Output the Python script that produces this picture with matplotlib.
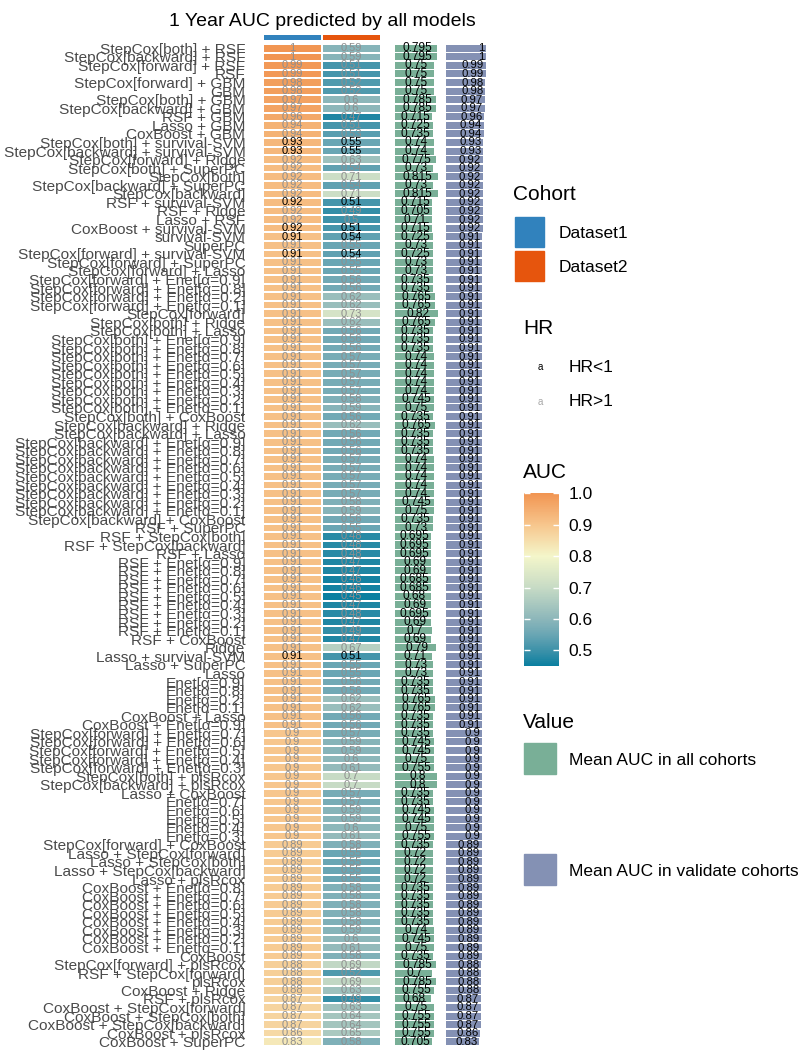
import numpy as np
import matplotlib.pyplot as plt
from matplotlib.colors import LinearSegmentedColormap, ListedColormap, Normalize
from matplotlib.patches import Rectangle

plt.rcParams['font.family'] = ['Liberation Sans', 'DejaVu Sans']

# ---- data (top row first) ----
models = [
    "StepCox[both] + RSF", "StepCox[backward] + RSF", "StepCox[forward] + RSF", "RSF",
    "StepCox[forward] + GBM", "GBM", "StepCox[both] + GBM", "StepCox[backward] + GBM",
    "RSF + GBM", "Lasso + GBM", "CoxBoost + GBM", "StepCox[both] + survival-SVM",
    "StepCox[backward] + survival-SVM", "StepCox[forward] + Ridge", "StepCox[both] + SuperPC",
    "StepCox[both]", "StepCox[backward] + SuperPC", "StepCox[backward]", "RSF + survival-SVM",
    "RSF + Ridge", "Lasso + RSF", "CoxBoost + survival-SVM", "survival-SVM", "SuperPC",
    "StepCox[forward] + survival-SVM", "StepCox[forward] + SuperPC", "StepCox[forward] + Lasso",
    "StepCox[forward] + Enet[α=0.9]", "StepCox[forward] + Enet[α=0.8]",
    "StepCox[forward] + Enet[α=0.2]", "StepCox[forward] + Enet[α=0.1]", "StepCox[forward]",
    "StepCox[both] + Ridge", "StepCox[both] + Lasso",
    "StepCox[both] + Enet[α=0.9]", "StepCox[both] + Enet[α=0.8]", "StepCox[both] + Enet[α=0.7]",
    "StepCox[both] + Enet[α=0.6]", "StepCox[both] + Enet[α=0.5]", "StepCox[both] + Enet[α=0.4]",
    "StepCox[both] + Enet[α=0.3]", "StepCox[both] + Enet[α=0.2]", "StepCox[both] + Enet[α=0.1]",
    "StepCox[both] + CoxBoost", "StepCox[backward] + Ridge", "StepCox[backward] + Lasso",
    "StepCox[backward] + Enet[α=0.9]", "StepCox[backward] + Enet[α=0.8]",
    "StepCox[backward] + Enet[α=0.7]", "StepCox[backward] + Enet[α=0.6]",
    "StepCox[backward] + Enet[α=0.5]", "StepCox[backward] + Enet[α=0.4]",
    "StepCox[backward] + Enet[α=0.3]", "StepCox[backward] + Enet[α=0.2]",
    "StepCox[backward] + Enet[α=0.1]", "StepCox[backward] + CoxBoost", "RSF + SuperPC",
    "RSF + StepCox[both]", "RSF + StepCox[backward]", "RSF + Lasso",
    "RSF + Enet[α=0.9]", "RSF + Enet[α=0.8]", "RSF + Enet[α=0.7]", "RSF + Enet[α=0.6]",
    "RSF + Enet[α=0.5]", "RSF + Enet[α=0.4]", "RSF + Enet[α=0.3]", "RSF + Enet[α=0.2]",
    "RSF + Enet[α=0.1]", "RSF + CoxBoost", "Ridge", "Lasso + survival-SVM", "Lasso + SuperPC",
    "Lasso", "Enet[α=0.9]", "Enet[α=0.8]", "Enet[α=0.2]", "Enet[α=0.1]", "CoxBoost + Lasso",
    "CoxBoost + Enet[α=0.9]", "StepCox[forward] + Enet[α=0.7]", "StepCox[forward] + Enet[α=0.6]",
    "StepCox[forward] + Enet[α=0.5]", "StepCox[forward] + Enet[α=0.4]",
    "StepCox[forward] + Enet[α=0.3]", "StepCox[both] + plsRcox", "StepCox[backward] + plsRcox",
    "Lasso + CoxBoost", "Enet[α=0.7]", "Enet[α=0.6]", "Enet[α=0.5]", "Enet[α=0.4]",
    "Enet[α=0.3]", "StepCox[forward] + CoxBoost", "Lasso + StepCox[forward]",
    "Lasso + StepCox[both]", "Lasso + StepCox[backward]", "Lasso + plsRcox",
    "CoxBoost + Enet[α=0.8]", "CoxBoost + Enet[α=0.7]", "CoxBoost + Enet[α=0.6]",
    "CoxBoost + Enet[α=0.5]", "CoxBoost + Enet[α=0.4]", "CoxBoost + Enet[α=0.3]",
    "CoxBoost + Enet[α=0.2]", "CoxBoost + Enet[α=0.1]", "CoxBoost",
    "StepCox[forward] + plsRcox", "RSF + StepCox[forward]", "plsRcox", "CoxBoost + Ridge",
    "RSF + plsRcox", "CoxBoost + StepCox[forward]", "CoxBoost + StepCox[both]",
    "CoxBoost + StepCox[backward]", "CoxBoost + plsRcox", "CoxBoost + SuperPC",
]

dataset1 = [
    1, 1, 0.99, 0.99, 0.98, 0.98, 0.97, 0.97, 0.96, 0.94, 0.94, 0.93, 0.93,
    0.92, 0.92, 0.92, 0.92, 0.92, 0.92, 0.92, 0.92, 0.92,
    0.91, 0.91, 0.91, 0.91, 0.91, 0.91, 0.91, 0.91, 0.91, 0.91, 0.91, 0.91, 0.91, 0.91,
    0.91, 0.91, 0.91, 0.91, 0.91, 0.91, 0.91, 0.91, 0.91, 0.91, 0.91, 0.91, 0.91, 0.91,
    0.91, 0.91, 0.91, 0.91, 0.91, 0.91, 0.91, 0.91, 0.91, 0.91, 0.91, 0.91, 0.91, 0.91,
    0.91, 0.91, 0.91, 0.91, 0.91, 0.91, 0.91, 0.91, 0.91, 0.91, 0.91, 0.91, 0.91, 0.91,
    0.91, 0.91,
    0.9, 0.9, 0.9, 0.9, 0.9, 0.9, 0.9, 0.9, 0.9, 0.9, 0.9, 0.9, 0.9,
    0.89, 0.89, 0.89, 0.89, 0.89, 0.89, 0.89, 0.89, 0.89, 0.89, 0.89, 0.89, 0.89, 0.89,
    0.88, 0.88, 0.88, 0.88, 0.87, 0.87, 0.87, 0.87, 0.86, 0.83,
]

dataset2 = [
    0.59, 0.59, 0.51, 0.51, 0.52, 0.52, 0.6, 0.6, 0.47, 0.51, 0.53, 0.55, 0.55,
    0.63, 0.54, 0.71, 0.54, 0.71, 0.51, 0.49, 0.5, 0.51,
    0.54, 0.55, 0.54, 0.55, 0.55, 0.56, 0.56, 0.62, 0.62, 0.73, 0.62, 0.56, 0.56, 0.56,
    0.57, 0.57, 0.57, 0.57, 0.57, 0.58, 0.59, 0.56, 0.62, 0.56, 0.56, 0.56, 0.57, 0.57,
    0.57, 0.57, 0.57, 0.58, 0.59, 0.56, 0.55, 0.48, 0.48, 0.48, 0.47, 0.47, 0.46, 0.46,
    0.45, 0.47, 0.48, 0.47, 0.49, 0.47, 0.67, 0.51, 0.55, 0.55, 0.56, 0.56, 0.62, 0.62,
    0.56, 0.56,
    0.57, 0.59, 0.59, 0.6, 0.61, 0.7, 0.7, 0.57, 0.57, 0.59, 0.59, 0.6, 0.61,
    0.58, 0.55, 0.55, 0.55, 0.55, 0.58, 0.58, 0.58, 0.58, 0.58, 0.59, 0.6, 0.61, 0.58,
    0.69, 0.52, 0.69, 0.63, 0.49, 0.63, 0.64, 0.64, 0.65, 0.58,
]

mean_all = [
    0.795, 0.795, 0.75, 0.75, 0.75, 0.75, 0.785, 0.785, 0.715, 0.725, 0.735, 0.74, 0.74,
    0.775, 0.73, 0.815, 0.73, 0.815, 0.715, 0.705, 0.71, 0.715,
    0.725, 0.73, 0.725, 0.73, 0.73, 0.735, 0.735, 0.765, 0.765, 0.82, 0.765, 0.735, 0.735, 0.735,
    0.74, 0.74, 0.74, 0.74, 0.74, 0.745, 0.75, 0.735, 0.765, 0.735, 0.735, 0.735, 0.74, 0.74,
    0.74, 0.74, 0.74, 0.745, 0.75, 0.735, 0.73, 0.695, 0.695, 0.695, 0.69, 0.69, 0.685, 0.685,
    0.68, 0.69, 0.695, 0.69, 0.7, 0.69, 0.79, 0.71, 0.73, 0.73, 0.735, 0.735, 0.765, 0.765,
    0.735, 0.735,
    0.735, 0.745, 0.745, 0.75, 0.755, 0.8, 0.8, 0.735, 0.735, 0.745, 0.745, 0.75, 0.755,
    0.735, 0.72, 0.72, 0.72, 0.72, 0.735, 0.735, 0.735, 0.735, 0.735, 0.74, 0.745, 0.75, 0.735,
    0.785, 0.7, 0.785, 0.755, 0.68, 0.75, 0.755, 0.755, 0.755, 0.705,
]

mean_validate = [
    1, 1, 0.99, 0.99, 0.98, 0.98, 0.97, 0.97, 0.96, 0.94, 0.94, 0.93, 0.93,
    0.92, 0.92, 0.92, 0.92, 0.92, 0.92, 0.92, 0.92, 0.92,
    0.91, 0.91, 0.91, 0.91, 0.91, 0.91, 0.91, 0.91, 0.91, 0.91, 0.91, 0.91, 0.91, 0.91,
    0.91, 0.91, 0.91, 0.91, 0.91, 0.91, 0.91, 0.91, 0.91, 0.91, 0.91, 0.91, 0.91, 0.91,
    0.91, 0.91, 0.91, 0.91, 0.91, 0.91, 0.91, 0.91, 0.91, 0.91, 0.91, 0.91, 0.91, 0.91,
    0.91, 0.91, 0.91, 0.91, 0.91, 0.91, 0.91, 0.91, 0.91, 0.91, 0.91, 0.91, 0.91, 0.91,
    0.91, 0.91,
    0.9, 0.9, 0.9, 0.9, 0.9, 0.9, 0.9, 0.9, 0.9, 0.9, 0.9, 0.9, 0.9,
    0.89, 0.89, 0.89, 0.89, 0.89, 0.89, 0.89, 0.89, 0.89, 0.89, 0.89, 0.89, 0.89, 0.89,
    0.88, 0.88, 0.88, 0.88, 0.87, 0.87, 0.87, 0.87, 0.86, 0.83,
]

# models whose hazard ratio is below 1 (black labels in the cells)
hr_below_one = [
    "StepCox[both] + survival-SVM", "StepCox[backward] + survival-SVM", "RSF + survival-SVM",
    "CoxBoost + survival-SVM", "survival-SVM", "StepCox[forward] + survival-SVM",
    "Lasso + survival-SVM",
]

cohorts = ["Dataset1", "Dataset2"]
cohort_colors = ["#3182BD", "#E6550D"]

W, H = 811, 1060


def box(x0, y0, x1, y1):
    # pixel box (top-left origin) -> figure fraction rect
    return [x0 / W, 1 - y1 / H, (x1 - x0) / W, (y1 - y0) / H]


def fy(py):
    return 1 - py / H


auc_cmap = LinearSegmentedColormap.from_list("auc", [
    (0.0, "#0B7FA0"), (0.0909, "#3E92A9"), (0.1818, "#6AA6B4"), (0.2727, "#8DB7BA"),
    (0.4545, "#C7DBC5"), (0.6364, "#F4F6CA"), (0.8182, "#F7C68D"), (1.0, "#F19552")])
norm = Normalize(vmin=0.45, vmax=1.0)

n = len(models)
rows = np.arange(n)
auc = np.column_stack([dataset1, dataset2])

fig = plt.figure(figsize=(W / 100, H / 100), dpi=100)

row_top, row_bot = 44, 1046

# main heatmap
ax = fig.add_axes(box(262.7, row_top, 380.5, row_bot))
mesh = ax.pcolormesh(np.arange(3) - 0.5, np.arange(n + 1) - 0.5, auc, cmap=auc_cmap,
                     norm=norm, edgecolors="white", linewidth=1.1)
ax.set_ylim(n - 0.5, -0.5)
ax.set_xlim(-0.5, 1.5)
for i in range(n):
    tc = "black" if models[i] in hr_below_one else "#8E8E8E"
    for j in range(2):
        ax.text(j, i, f"{auc[i, j]:g}", ha="center", va="center", fontsize=8, color=tc)
ax.set_yticks(rows)
ax.set_yticklabels(models, fontsize=11.1, color="#4A4A4A")
ax.set_xticks([])
ax.tick_params(axis="y", length=0, pad=12.5)
for s in ax.spines.values():
    s.set_visible(False)

# cohort annotation on top
ax_top = fig.add_axes(box(262.7, 34, 380.5, 40.5))
ax_top.pcolormesh(np.arange(3) - 0.5, [0, 1], [[0, 1]], cmap=ListedColormap(cohort_colors),
                  edgecolors="white", linewidth=1.1)
ax_top.set_xlim(-0.5, 1.5)
ax_top.axis("off")

# mean AUC in all cohorts
ax_m = fig.add_axes(box(395, row_top, 440, row_bot))
ax_m.barh(rows, mean_all, height=0.82, color="#79AF97")
for i, v in enumerate(mean_all):
    ax_m.text(v / 2 + 0.03, i, f"{v:g}", ha="center", va="center", fontsize=8.6, color="black")
ax_m.set_xlim(0, 0.861)
ax_m.set_ylim(n - 0.5, -0.5)
ax_m.axis("off")

# mean AUC in validate cohorts
ax_v = fig.add_axes(box(445.7, row_top, 488, row_bot))
ax_v.barh(rows, mean_validate, height=0.82, color="#8491B4")
for i, v in enumerate(mean_validate):
    ax_v.text(v - 0.04, i, f"{v:g}", ha="right", va="center", fontsize=8.2, color="black")
ax_v.set_xlim(0, 1.05)
ax_v.set_ylim(n - 0.5, -0.5)
ax_v.axis("off")

fig.text(322 / W, fy(22), "1 Year AUC predicted by all models", ha="center", va="center",
         fontsize=14)

# legends
fig.text(512.7 / W, fy(194), "Cohort", ha="left", va="center", fontsize=15)
for k, (name, col) in enumerate(zip(cohorts, cohort_colors)):
    y0 = 217 + k * 34
    fig.add_artist(Rectangle((515 / W, fy(y0 + 29.5)), 29 / W, 29.5 / H,
                             transform=fig.transFigure, color=col))
    fig.text(558.7 / W, fy(y0 + 16), name, ha="left", va="center", fontsize=12.5)

fig.text(523 / W, fy(329), "HR", ha="left", va="center", fontsize=15)
for y, col, lab in [(367.5, "black", "HR<1"), (402, "#A8A8A8", "HR>1")]:
    fig.text(540 / W, fy(y), "a", ha="center", va="center", fontsize=7, color=col)
    fig.text(569 / W, fy(y), lab, ha="left", va="center", fontsize=12.5)

fig.text(523 / W, fy(473), "AUC", ha="left", va="center", fontsize=15)
cax = fig.add_axes(box(524, 493.3, 559, 666))
cb = fig.colorbar(mesh, cax=cax)
cb.outline.set_visible(False)
cb.set_ticks([0.5, 0.6, 0.7, 0.8, 0.9, 1.0])
cb.set_ticklabels(["0.5", "0.6", "0.7", "0.8", "0.9", "1.0"])
cax.tick_params(direction="in", color="white", length=4.5, width=1, left=True, right=True,
                labelsize=12.5, pad=7)

fig.text(523 / W, fy(723), "Value", ha="left", va="center", fontsize=15)
for y0, col, lab in [(743.3, "#79AF97", "Mean AUC in all cohorts"),
                     (854, "#8491B4", "Mean AUC in validate cohorts")]:
    fig.add_artist(Rectangle((524 / W, fy(y0 + 31)), 32 / W, 31 / H,
                             transform=fig.transFigure, color=col))
    fig.text(569 / W, fy(y0 + 17), lab, ha="left", va="center", fontsize=12.5)

fig.savefig("out.png", dpi=100)
